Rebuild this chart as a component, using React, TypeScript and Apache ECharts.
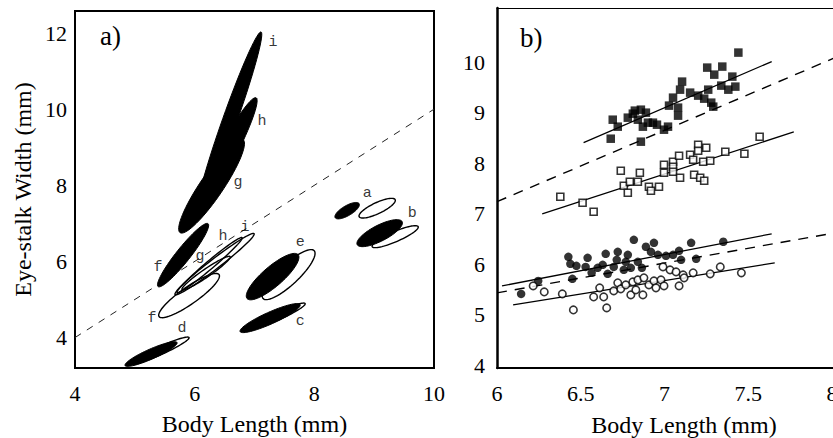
import React, { useEffect, useRef } from "react";
import * as echarts from "echarts";

// ---------- Panel a: ellipses [x1, y1, x2, y2, minor/major ratio] (major-axis tips in data units)
const filledEllipseNames = ["g", "h", "i", "f", "d", "e", "c", "a", "b"];
const filledEllipses = [
  [5.756, 6.756, 6.809, 9.197, 0.205],
  [6.007, 7.228, 7.027, 10.3, 0.136],
  [6.057, 7.36, 7.11, 12.03, 0.076],
  [5.388, 5.339, 6.224, 6.992, 0.174],
  [4.836, 3.265, 5.706, 3.869, 0.176],
  [6.876, 5.024, 7.729, 6.178, 0.297],
  [6.759, 4.157, 7.763, 4.866, 0.18],
  [8.348, 7.15, 8.749, 7.517, 0.36],
  [8.716, 6.441, 9.468, 7.045, 0.316],
];
const openEllipseNames = ["f", "g", "h", "i", "d", "e", "c", "a", "b"];
const openEllipses = [
  [5.405, 4.551, 6.408, 5.654, 0.232],
  [5.789, 5.26, 6.592, 6.126, 0.137],
  [5.706, 5.181, 6.793, 6.625, 0.094],
  [5.672, 5.129, 6.993, 6.73, 0.1],
  [4.953, 3.318, 5.906, 4.0, 0.128],
  [7.144, 5.024, 7.997, 6.283, 0.286],
  [6.96, 4.26, 7.846, 4.892, 0.137],
  [8.749, 7.176, 9.351, 7.622, 0.276],
  [8.967, 6.388, 9.736, 6.913, 0.2],
];
const ellipseLabelText = ["i", "h", "g", "f", "f", "g", "h", "i", "d", "c", "e", "a", "b"];
const ellipseLabelPos = [
  [7.31, 11.74], [7.127, 9.67], [6.726, 8.07], [5.388, 5.84], [5.288, 4.5],
  [6.09, 6.126], [6.475, 6.65], [6.84, 6.887], [5.79, 4.236], [7.763, 4.42],
  [7.763, 6.49], [8.883, 7.78], [9.636, 7.255],
];
const identityLine = [[4, 4], [10, 10]];

// ---------- Panel b: scatter data [body length, eye-stalk width]
const filledSquares = [
  [7.441, 10.188], [7.255, 9.891], [7.345, 9.911], [7.297, 9.752], [7.405, 9.713],
  [7.423, 9.515], [7.339, 9.535], [7.381, 9.455], [7.261, 9.455], [7.105, 9.614],
  [7.093, 9.455], [7.153, 9.396], [7.201, 9.337], [7.237, 9.277], [7.279, 9.198],
  [7.291, 9.119], [7.051, 9.297], [7.027, 9.139], [7.081, 9.099], [7.081, 8.941],
  [7.021, 8.723], [6.997, 8.663], [6.859, 9.059], [6.823, 9.04], [6.889, 9.0],
  [6.841, 8.861], [6.871, 8.723], [6.931, 8.802], [6.901, 8.802], [6.781, 8.901],
  [6.691, 8.861], [6.721, 8.723], [6.679, 8.485], [6.859, 8.426], [6.811, 8.98],
  [6.955, 8.762],
];
const openSquares = [
  [6.378, 7.337], [6.511, 7.218], [6.577, 7.04], [6.739, 7.851], [6.853, 7.812],
  [6.757, 7.554], [6.793, 7.634], [6.841, 7.634], [6.781, 7.416], [6.907, 7.535],
  [6.919, 7.455], [6.967, 7.535], [6.997, 7.97], [7.051, 8.03], [7.087, 8.149],
  [6.997, 7.812], [7.051, 7.931], [7.051, 7.832], [7.093, 7.713], [7.153, 8.168],
  [7.201, 8.366], [7.201, 8.248], [7.249, 8.307], [7.171, 8.069], [7.231, 8.03],
  [7.273, 8.05], [7.177, 7.772], [7.213, 7.713], [7.237, 7.653], [7.363, 8.228],
  [7.477, 8.188], [7.568, 8.525],
];
const filledCircles = [
  [6.144, 5.416], [6.246, 5.673], [6.45, 5.713], [6.426, 6.149], [6.438, 6.01],
  [6.474, 5.97], [6.541, 6.129], [6.529, 5.95], [6.565, 5.832], [6.601, 5.931],
  [6.649, 6.208], [6.631, 5.99], [6.661, 5.812], [6.721, 6.248], [6.715, 6.089],
  [6.697, 5.95], [6.769, 6.05], [6.757, 5.891], [6.781, 6.188], [6.817, 6.485],
  [6.799, 5.931], [6.841, 6.05], [6.865, 5.931], [6.889, 6.347], [6.937, 6.426],
  [6.919, 6.248], [6.961, 6.188], [7.009, 6.168], [7.051, 6.188], [7.087, 6.267],
  [7.099, 6.089], [7.159, 6.426], [7.189, 6.109], [7.351, 6.446],
];
const openCircles = [
  [6.216, 5.574], [6.282, 5.455], [6.39, 5.416], [6.456, 5.099], [6.577, 5.356],
  [6.613, 5.535], [6.637, 5.356], [6.655, 5.139], [6.697, 5.475], [6.721, 5.634],
  [6.739, 5.515], [6.769, 5.594], [6.799, 5.396], [6.811, 5.653], [6.829, 5.495],
  [6.841, 5.693], [6.871, 5.396], [6.877, 5.733], [6.907, 5.594], [6.937, 5.673],
  [6.949, 5.535], [6.991, 5.95], [6.979, 5.693], [6.997, 5.574], [7.033, 5.891],
  [7.069, 5.851], [7.087, 5.574], [7.111, 5.792], [7.117, 5.733], [7.171, 5.832],
  [7.273, 5.812], [7.333, 5.95], [7.459, 5.832],
];
const fitFilledSquares = [[6.517, 8.406], [7.64, 10.01]];
const fitOpenSquares = [[6.27, 7.0], [7.772, 8.62]];
const fitFilledCircles = [[6.03, 5.574], [7.64, 6.604]];
const fitOpenCircles = [[6.096, 5.198], [7.658, 6.03]];
const dashedUpper = [[6.0, 7.24], [8.02, 10.09]];
const dashedLower = [[6.0, 5.436], [8.02, 6.624]];

const ticksAY = [4, 6, 8, 10, 12];
const ticksBY = [4, 5, 6, 7, 8, 9, 10];

const SERIF = "'Liberation Serif', 'Times New Roman', 'DejaVu Serif', serif";
const MONO = "'Liberation Mono', 'Courier New', 'DejaVu Sans Mono', monospace";

function makeEllipseRenderer(filled: boolean) {
  return (params: any, api: any) => {
    const p1 = api.coord([api.value(0), api.value(1)]);
    const p2 = api.coord([api.value(2), api.value(3)]);
    const r = api.value(4);
    const dx = p2[0] - p1[0];
    const dy = p2[1] - p1[1];
    const len = Math.sqrt(dx * dx + dy * dy);
    const a = len / 2;
    const b = a * r;
    const ux = dx / len, uy = dy / len;
    const vx = -uy, vy = ux;
    const cx = (p1[0] + p2[0]) / 2, cy = (p1[1] + p2[1]) / 2;
    const pts: number[][] = [];
    const n = 72;
    for (let k = 0; k < n; k++) {
      const t = (k / n) * Math.PI * 2;
      const ca = a * Math.cos(t), sb = b * Math.sin(t);
      pts.push([cx + ca * ux + sb * vx, cy + ca * uy + sb * vy]);
    }
    return {
      type: "polygon",
      shape: { points: pts },
      style: filled
        ? { fill: "#000", stroke: "#000", lineWidth: 1 }
        : { fill: "none", stroke: "#000", lineWidth: 1.4 },
    };
  };
}

export default function App() {
  const ref = useRef<HTMLDivElement>(null);
  useEffect(() => {
    if (!ref.current) return;
    const chart = echarts.init(ref.current, null, { renderer: "svg" });
    const axisLabelStyle = { color: "#000", fontFamily: SERIF, fontSize: 22 };
    const option: any = {
      animation: false,
      backgroundColor: "#fff",
      grid: [
        { left: 75, top: 11, width: 359, height: 357, show: true, borderColor: "#000", borderWidth: 2, backgroundColor: "transparent", outerBoundsMode: "none", containLabel: false },
        { left: 497, top: 8, right: 0, height: 360, show: false, outerBoundsMode: "none", containLabel: false },
      ],
      xAxis: [
        {
          gridIndex: 0, type: "value", min: 4, max: 10, interval: 2,
          name: "Body Length (mm)", nameLocation: "middle", nameGap: 44,
          nameTextStyle: { color: "#000", fontFamily: SERIF, fontSize: 24 },
          axisLine: { show: false }, axisTick: { show: false }, splitLine: { show: false },
          axisLabel: { ...axisLabelStyle, margin: 14 },
        },
        {
          gridIndex: 1, type: "value", min: 6, max: 8.006, interval: 0.5,
          axisLine: { show: true, onZero: false, lineStyle: { color: "#000", width: 2 } }, axisTick: { show: false }, splitLine: { show: false },
          axisLabel: { ...axisLabelStyle, margin: 14 },
        },
        {
          gridIndex: 1, type: "value", position: "top", min: 6, max: 8.006,
          axisLine: { show: true, onZero: false, lineStyle: { color: "#000", width: 1.2 } }, axisTick: { show: false }, splitLine: { show: false },
          axisLabel: { show: false },
        },
      ],
      yAxis: [
        {
          gridIndex: 0, type: "value", min: 3.2, max: 12.58,
          name: "Eye-stalk Width (mm)", nameLocation: "middle", nameGap: 40,
          nameTextStyle: { color: "#000", fontFamily: SERIF, fontSize: 24 },
          axisLine: { show: false }, axisTick: { show: false, customValues: ticksAY }, splitLine: { show: false },
          axisLabel: { ...axisLabelStyle, margin: 8, customValues: ticksAY },
        },
        {
          gridIndex: 1, type: "value", min: 3.95, max: 11.07,
          axisLine: { show: true, onZero: false, lineStyle: { color: "#000", width: 2.5 } }, axisTick: { show: false, customValues: ticksBY }, splitLine: { show: false },
          axisLabel: { ...axisLabelStyle, margin: 12, customValues: ticksBY },
        },
      ],
      graphic: [
        { type: "text", left: 100, top: 22, style: { text: "a)", font: "27px " + SERIF, fill: "#000" } },
        { type: "text", left: 520, top: 24, style: { text: "b)", font: "27px " + SERIF, fill: "#000" } },
        { type: "text", x: 684, y: 413, style: { text: "Body Length (mm)", font: "24px " + SERIF, fill: "#000", align: "center", verticalAlign: "top" } },
      ],
      series: [
        {
          type: "line", xAxisIndex: 0, yAxisIndex: 0, data: identityLine, symbol: "none", z: 1,
          lineStyle: { color: "#222", width: 1, type: [7, 7] },
        },
        {
          type: "custom", xAxisIndex: 0, yAxisIndex: 0, z: 2,
          renderItem: makeEllipseRenderer(false),
          data: openEllipses.map((v, i) => ({ name: openEllipseNames[i], value: v })),
        },
        {
          type: "custom", xAxisIndex: 0, yAxisIndex: 0, z: 3,
          renderItem: makeEllipseRenderer(true),
          data: filledEllipses.map((v, i) => ({ name: filledEllipseNames[i], value: v })),
        },
        {
          type: "scatter", xAxisIndex: 0, yAxisIndex: 0, z: 4, symbolSize: 1,
          itemStyle: { color: "rgba(0,0,0,0)" },
          label: { show: true, position: "inside", formatter: "{b}", color: "#000", fontFamily: MONO, fontSize: 15 },
          data: ellipseLabelPos.map((p, i) => ({ name: ellipseLabelText[i], value: p })),
        },
        // panel b lines
        ...[fitFilledSquares, fitOpenSquares, fitFilledCircles, fitOpenCircles].map((d) => ({
          type: "line", xAxisIndex: 1, yAxisIndex: 1, data: d, symbol: "none", z: 1,
          lineStyle: { color: "#000", width: 1.3 },
        })),
        ...[dashedUpper, dashedLower].map((d) => ({
          type: "line", xAxisIndex: 1, yAxisIndex: 1, data: d, symbol: "none", z: 1, clip: false,
          lineStyle: { color: "#000", width: 1.4, type: [10, 8] },
        })),
        {
          type: "scatter", xAxisIndex: 1, yAxisIndex: 1, z: 3, symbol: "rect", symbolSize: 8.5,
          itemStyle: { color: "#000" }, data: filledSquares,
        },
        {
          type: "scatter", xAxisIndex: 1, yAxisIndex: 1, z: 3, symbol: "rect", symbolSize: 7,
          itemStyle: { color: "#fff", borderColor: "#000", borderWidth: 1.6 }, data: openSquares,
        },
        {
          type: "scatter", xAxisIndex: 1, yAxisIndex: 1, z: 3, symbol: "circle", symbolSize: 8.5,
          itemStyle: { color: "#000" }, data: filledCircles,
        },
        {
          type: "scatter", xAxisIndex: 1, yAxisIndex: 1, z: 4, symbol: "circle", symbolSize: 7.5,
          itemStyle: { color: "#fff", borderColor: "#000", borderWidth: 1.6 }, data: openCircles,
        },
      ],
    };
    chart.setOption(option);
    return () => chart.dispose();
  }, []);
  return (
    <div
      ref={ref}
      style={{ position: "fixed", left: 0, top: 0, width: 833, height: 438, background: "#fff" }}
    />
  );
}
